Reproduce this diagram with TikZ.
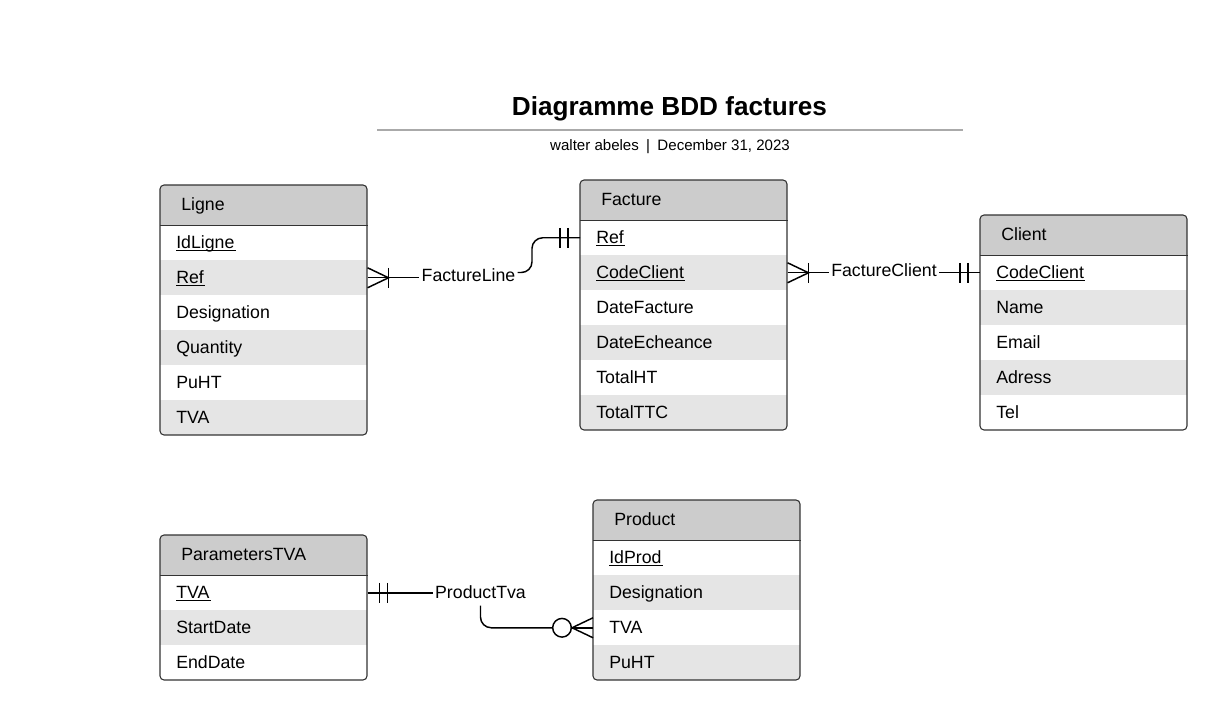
\documentclass[tikz,border=0pt]{standalone}
\usepackage{fontspec}
\setmainfont{Liberation Sans}
\usetikzlibrary{calc}
\definecolor{hdrgray}{HTML}{CCCCCC}
\definecolor{rowgray}{HTML}{E5E5E5}
\definecolor{edgegray}{HTML}{333333}
\definecolor{rulegray}{HTML}{AAAAAA}
\newcommand\myul[1]{\setbox0\hbox{#1}\rlap{\rule[-2.3pt]{\dimexpr\wd0+1pt\relax}{0.75pt}}\box0}
\begin{document}
\begin{tikzpicture}[x=0.75pt,y=-0.75pt,
 every node/.style={font=\fontsize{13.3pt}{15pt}\selectfont},
 cell/.style={anchor=north west, minimum width=155.25pt, minimum height=26.25pt, inner xsep=12pt, inner ysep=0pt, text width=131.25pt, align=left, text height=9.4pt, text depth=1.2pt},
 rowW/.style={cell, fill=white},
 rowG/.style={cell, fill=rowgray},
 hdr/.style={cell, minimum height=30pt, inner xsep=15.75pt, text width=123.75pt, fill=hdrgray},
 tbl/.style={draw=edgegray, line width=0.8pt},
 conn/.style={draw=black, line width=1.1pt},
 lbl/.style={fill=white, inner xsep=1.5pt, inner ysep=3pt, text height=9.4pt, text depth=1.2pt},
]
\useasboundingbox (0,0) rectangle (1228,720);

% Title
\node[font=\fontsize{19.6pt}{22pt}\selectfont\bfseries] (title) at (669.5,108.5) {Diagramme BDD factures};
\coordinate (rl) at (377,130);
\coordinate (rr) at (963,130);
\draw[rulegray, line width=1.3pt] (rl) -- (rr);
\node[font=\fontsize{11.3pt}{13pt}\selectfont] (sub) at (670,146.5) {walter abeles\hspace{5.5pt}|\hspace{5.5pt}December 31, 2023};

% Ligne
\begin{scope}
\clip[rounded corners=3pt] (160,185) rectangle (367,435);
\node[hdr] (Lh) at (160,185) {Ligne};
\node[rowW] (L1) at (160,225) {\myul{IdLigne}};
\node[rowG] (L2) at (160,260) {\myul{Ref}};
\node[rowW] (L3) at (160,295) {Designation};
\node[rowG] (L4) at (160,330) {Quantity};
\node[rowW] (L5) at (160,365) {PuHT};
\node[rowG] (L6) at (160,400) {TVA};
\end{scope}
\draw[tbl, rounded corners=3pt] (160,185) rectangle (367,435);
\draw[tbl] (Lh.south west) -- (Lh.south east);

% Facture
\begin{scope}
\clip[rounded corners=3pt] (580,180) rectangle (787,430);
\node[hdr] (Fh) at (580,180) {Facture};
\node[rowW] (F1) at (580,220) {\myul{Ref}};
\node[rowG] (F2) at (580,255) {\myul{CodeClient}};
\node[rowW] (F3) at (580,290) {DateFacture};
\node[rowG] (F4) at (580,325) {DateEcheance};
\node[rowW] (F5) at (580,360) {TotalHT};
\node[rowG] (F6) at (580,395) {TotalTTC};
\end{scope}
\draw[tbl, rounded corners=3pt] (580,180) rectangle (787,430);
\draw[tbl] (Fh.south west) -- (Fh.south east);

% Client
\begin{scope}
\clip[rounded corners=3pt] (980,215) rectangle (1187,430);
\node[hdr] (Ch) at (980,215) {Client};
\node[rowW] (C1) at (980,255) {\myul{CodeClient}};
\node[rowG] (C2) at (980,290) {Name};
\node[rowW] (C3) at (980,325) {Email};
\node[rowG] (C4) at (980,360) {Adress};
\node[rowW] (C5) at (980,395) {Tel};
\end{scope}
\draw[tbl, rounded corners=3pt] (980,215) rectangle (1187,430);
\draw[tbl] (Ch.south west) -- (Ch.south east);

% ParametersTVA
\begin{scope}
\clip[rounded corners=3pt] (160,535) rectangle (367,680);
\node[hdr] (Th) at (160,535) {ParametersTVA};
\node[rowW] (T1) at (160,575) {\myul{TVA}};
\node[rowG] (T2) at (160,610) {StartDate};
\node[rowW] (T3) at (160,645) {EndDate};
\end{scope}
\draw[tbl, rounded corners=3pt] (160,535) rectangle (367,680);
\draw[tbl] (Th.south west) -- (Th.south east);

% Product
\begin{scope}
\clip[rounded corners=3pt] (593,500) rectangle (800,680);
\node[hdr] (Ph) at (593,500) {Product};
\node[rowW] (P1) at (593,540) {\myul{IdProd}};
\node[rowG] (P2) at (593,575) {Designation};
\node[rowW] (P3) at (593,610) {TVA};
\node[rowG] (P4) at (593,645) {PuHT};
\end{scope}
\draw[tbl, rounded corners=3pt] (593,500) rectangle (800,680);
\draw[tbl] (Ph.south west) -- (Ph.south east);

% FactureLine: Ligne (many) -- Facture (one)
\node[lbl] (FL) at (468.5,276.5) {FactureLine};
\draw[conn] ($(L2.east)+(0,-10)$) -- ($(L2.east)+(21,0)$) -- ($(L2.east)+(0,10)$);
\draw[conn] ($(L2.east)+(21,-10)$) -- ($(L2.east)+(21,10)$);
\draw[conn] (L2.east) -- (L2.east -| FL.west);
\coordinate (k1) at ($(F1.west)+(-48,0)$);
\draw[conn, rounded corners=8pt] ($(FL.east)+(0,-4)$) -- ($(FL.east -| k1)+(0,-4)$) -- (k1) -- (F1.west);
\draw[conn] ($(F1.west)+(-20,-10)$) -- ($(F1.west)+(-20,10)$);
\draw[conn] ($(F1.west)+(-12,-10)$) -- ($(F1.west)+(-12,10)$);

% FactureClient: Facture (many) -- Client (one)
\node[lbl] (FC) at (884,271.5) {FactureClient};
\draw[conn] ($(F2.east)+(0,-10)$) -- ($(F2.east)+(21,0)$) -- ($(F2.east)+(0,10)$);
\draw[conn] ($(F2.east)+(21,-10)$) -- ($(F2.east)+(21,10)$);
\draw[conn] (F2.east) -- (F2.east -| FC.west);
\draw[conn] (C1.west -| FC.east) -- (C1.west);
\draw[conn] ($(C1.west)+(-20,-10)$) -- ($(C1.west)+(-20,10)$);
\draw[conn] ($(C1.west)+(-12,-10)$) -- ($(C1.west)+(-12,10)$);

% ProductTva: ParametersTVA (one) -- Product (zero or many)
\node[lbl, inner ysep=4pt] (PTV) at (480.5,593) {ProductTva};
\draw[conn] (T1.east) -- (T1.east -| PTV.west);
\draw[conn] ($(T1.east)+(12,-10)$) -- ($(T1.east)+(12,10)$);
\draw[conn] ($(T1.east)+(20,-10)$) -- ($(T1.east)+(20,10)$);
\node[draw=black, line width=1.1pt, circle, minimum size=14pt, inner sep=0pt, fill=white] (oc) at ($(P3.west)+(-31,0)$) {};
\draw[conn, rounded corners=8pt] (PTV.south) -- (PTV.south |- P3.west) -- (oc.west);
\draw[conn] ($(P3.west)+(0,-10)$) -- (oc.east) -- ($(P3.west)+(0,10)$);
\draw[conn] (oc.east) -- (P3.west);
\end{tikzpicture}
\end{document}
